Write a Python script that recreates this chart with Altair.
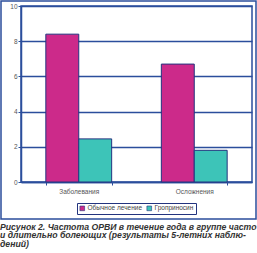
import altair as alt
import pandas as pd

categories = ["Заболевания", "Осложнения"]
series = ["Обычное лечение", "Гроприносин"]
values_usual = [8.4, 6.7]
values_gropr = [2.45, 1.8]
y_ticks = [0, 2, 4, 6, 8, 10]
caption = ["Рисунок 2. Частота ОРВИ в течение года в группе часто",
           "и длительно болеющих (результаты 5-летних наблю-",
           "дений)"]

rows = []
for c, a, b in zip(categories, values_usual, values_gropr):
    rows.append({"cat": c, "series": series[0], "value": a})
    rows.append({"cat": c, "series": series[1], "value": b})
df = pd.DataFrame(rows)

BLUE = "#2B4E9C"
NAVY = "#23347F"
FONT = "Liberation Sans"

bars = alt.Chart(df).mark_bar(stroke=NAVY, strokeWidth=1).encode(
    x=alt.X("cat:N", sort=categories, title=None,
            scale=alt.Scale(paddingInner=0.43, paddingOuter=0.215),
            axis=alt.Axis(labelAngle=0, labelFontSize=6.5, labelColor="#555555",
                          labelFont=FONT, tickBand="extent", tickSize=3,
                          tickColor=BLUE, domainColor=BLUE, domainWidth=1.5,
                          labelPadding=3)),
    xOffset=alt.XOffset("series:N", sort=series),
    y=alt.Y("value:Q", title=None,
            scale=alt.Scale(domain=[0, 10]),
            axis=alt.Axis(values=y_ticks, labelFontSize=6.5, labelColor="#555555",
                          labelFont=FONT, tickSize=3, tickColor=BLUE,
                          domainColor=BLUE, domainWidth=1.5, gridColor=BLUE,
                          gridWidth=1.3, gridOpacity=1, labelPadding=1)),
    color=alt.Color("series:N", sort=series,
                    scale=alt.Scale(domain=series, range=["#CC2A8A", "#3DC4B8"]),
                    legend=alt.Legend(title=None, orient="none", direction="horizontal",
                                      legendX=56, legendY=197, symbolType="square",
                                      symbolSize=22, symbolStrokeColor=NAVY,
                                      symbolStrokeWidth=0.6,
                                      labelFontSize=6.5, labelFont=FONT,
                                      labelColor="#444444", strokeColor=NAVY,
                                      padding=2, columnPadding=3, labelOffset=2,
                                      symbolOffset=0)),
)

frame = alt.Chart(pd.DataFrame({"a": [0]})).mark_rect(
    fillOpacity=0, stroke=BLUE, strokeWidth=1.5
).encode(x=alt.value(-20), x2=alt.value(235), y=alt.value(-5), y2=alt.value(213))

chart = alt.layer(bars, frame).properties(
    width=231, height=176,
    padding={"left": 21, "top": 6, "right": 5, "bottom": 71},
    autosize=alt.AutoSizeParams(type="none"),
    title=alt.TitleParams(text=caption, orient="bottom", anchor="start",
                          frame="group", offset=3, dx=-21,
                          font=FONT, fontSize=8.7, fontWeight="bold",
                          fontStyle="italic", color="#333333", lineHeight=8.6),
).configure_view(stroke=BLUE, strokeWidth=1.5)

chart.save("out.html", embed_options={"renderer": "svg", "actions": False})
